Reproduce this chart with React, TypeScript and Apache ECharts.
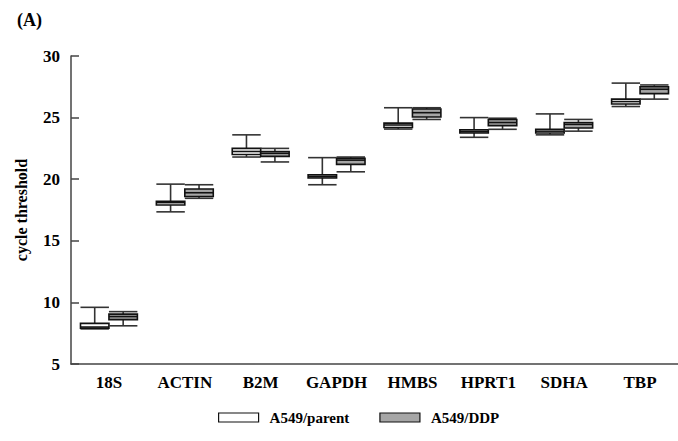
import React, { useEffect, useRef } from "react";
import * as echarts from "echarts";

const categories = ["18S", "ACTIN", "B2M", "GAPDH", "HMBS", "HPRT1", "SDHA", "TBP"];
const yTicks = [5, 10, 15, 20, 25, 30];
// [min, q1, median, q3, max]
const parentStats = [
  [7.85, 7.9, 8.0, 8.3, 9.6],
  [17.35, 17.9, 18.1, 18.2, 19.6],
  [21.8, 22.0, 22.25, 22.5, 23.6],
  [19.55, 20.1, 20.2, 20.35, 21.75],
  [24.07, 24.2, 24.4, 24.55, 25.8],
  [23.4, 23.75, 23.85, 24.0, 25.0],
  [23.6, 23.75, 23.9, 24.05, 25.3],
  [25.9, 26.1, 26.3, 26.5, 27.8],
];
const ddpStats = [
  [8.1, 8.6, 8.85, 9.05, 9.25],
  [18.45, 18.6, 18.9, 19.2, 19.55],
  [21.4, 21.85, 22.1, 22.25, 22.5],
  [20.6, 21.2, 21.55, 21.7, 21.8],
  [24.85, 25.05, 25.4, 25.7, 25.8],
  [24.05, 24.35, 24.6, 24.85, 24.95],
  [23.9, 24.15, 24.45, 24.6, 24.85],
  [26.5, 26.95, 27.3, 27.5, 27.65],
];
const seriesNames = ["A549/parent", "A549/DDP"];
const fills = ["#ffffff", "#a6a6a6"];

const FONT = "'Liberation Serif', 'Times New Roman', serif";

function makeRender(side: number, fill: string) {
  return (params: any, api: any) => {
    const xi = api.value(0);
    const pMin = api.coord([xi, api.value(1)]);
    const pQ1 = api.coord([xi, api.value(2)]);
    const pMed = api.coord([xi, api.value(3)]);
    const pQ3 = api.coord([xi, api.value(4)]);
    const pMax = api.coord([xi, api.value(5)]);
    const band = api.size([1, 0])[0];
    const w = band * 0.375;
    const cx = pMin[0];
    const left = side < 0 ? cx - w : cx;
    const mid = left + w / 2;
    const lineStyle = { stroke: "#333", lineWidth: 1.6, fill: null };
    return {
      type: "group",
      children: [
        { type: "line", shape: { x1: mid, y1: pQ3[1], x2: mid, y2: pMax[1] }, style: lineStyle },
        { type: "line", shape: { x1: left, y1: pMax[1], x2: left + w, y2: pMax[1] }, style: lineStyle },
        { type: "line", shape: { x1: mid, y1: pQ1[1], x2: mid, y2: pMin[1] }, style: lineStyle },
        { type: "line", shape: { x1: left, y1: pMin[1], x2: left + w, y2: pMin[1] }, style: lineStyle },
        {
          type: "rect",
          shape: { x: left, y: pQ3[1], width: w, height: pQ1[1] - pQ3[1] },
          style: { fill, stroke: "#111", lineWidth: 1.6 },
        },
        { type: "line", shape: { x1: left, y1: pMed[1], x2: left + w, y2: pMed[1] }, style: { stroke: "#111", lineWidth: 1.6 } },
      ],
    };
  };
}

export default function App() {
  const ref = useRef<HTMLDivElement>(null);
  useEffect(() => {
    document.body.style.margin = "0";
    if (!ref.current) return;
    const chart = echarts.init(ref.current, undefined, { renderer: "svg" });
    const toData = (stats: number[][]) => stats.map((s, i) => [i, ...s]);
    chart.setOption({
      animation: false,
      backgroundColor: "#ffffff",
      title: {
        text: "(A)",
        left: 12,
        top: 6,
        textStyle: { fontFamily: FONT, fontWeight: "bold", fontSize: 18, color: "#000" },
      },
      grid: { left: 71, top: 56, width: 616, height: 308 },
      legend: {
        left: 213,
        top: 405,
        itemWidth: 40,
        itemHeight: 9,
        itemGap: 30,
        textStyle: { fontFamily: FONT, fontWeight: "bold", fontSize: 15, color: "#000", padding: [0, 0, 0, 6] },
        data: seriesNames.map((n, i) => ({
          name: n,
          icon: "rect",
          itemStyle: { color: fills[i], borderColor: "#111", borderWidth: 1.2 },
        })),
      },
      xAxis: {
        type: "category",
        data: categories,
        axisLine: { lineStyle: { color: "#444", width: 1.5 } },
        axisTick: { inside: true, alignWithLabel: true, length: 11, lineStyle: { color: "#444", width: 1.5 } },
        axisLabel: { interval: 0, fontFamily: FONT, fontWeight: "bold", fontSize: 17, color: "#000", margin: 10 },
        splitLine: { show: false },
      },
      yAxis: {
        type: "value",
        min: yTicks[0],
        max: yTicks[yTicks.length - 1],
        interval: 5,
        name: "cycle threshold",
        nameLocation: "middle",
        nameGap: 42,
        nameTextStyle: { fontFamily: FONT, fontWeight: "bold", fontSize: 16, color: "#000" },
        axisLine: { show: true, lineStyle: { color: "#444", width: 1.5 } },
        axisTick: { show: true, inside: true, length: 8, lineStyle: { color: "#444", width: 1.5 } },
        axisLabel: { fontFamily: FONT, fontWeight: "bold", fontSize: 17, color: "#000", margin: 11 },
        splitLine: { show: false },
      },
      series: [
        {
          name: seriesNames[0],
          type: "custom",
          renderItem: makeRender(-1, fills[0]),
          encode: { x: 0, y: [1, 2, 3, 4, 5] },
          itemStyle: { color: fills[0], borderColor: "#111" },
          data: toData(parentStats),
        },
        {
          name: seriesNames[1],
          type: "custom",
          renderItem: makeRender(1, fills[1]),
          encode: { x: 0, y: [1, 2, 3, 4, 5] },
          itemStyle: { color: fills[1], borderColor: "#111" },
          data: toData(ddpStats),
        },
      ],
    });
    return () => chart.dispose();
  }, []);
  return <div ref={ref} style={{ width: 678, height: 441 }} />;
}
